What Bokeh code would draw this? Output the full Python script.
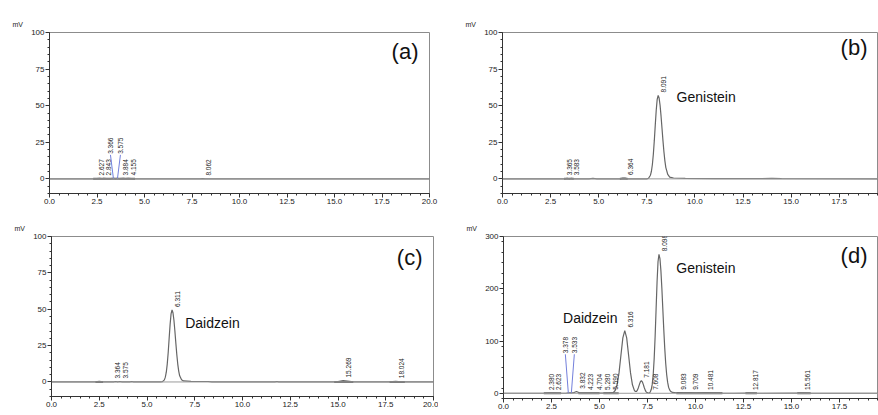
import numpy as np
from bokeh.plotting import figure
from bokeh.layouts import column, row
from bokeh.models import FixedTicker, Label, PrintfTickFormatter, Range1d, Span
from bokeh.core.properties import value
from bokeh.embed import file_html
from bokeh.resources import INLINE

# ---------------- data ----------------
# (a) blank
a_time = [0, 2.3, 2.5, 2.627, 2.75, 2.843, 3.0, 3.2, 3.366, 3.47, 3.575, 3.7, 3.884, 4.0, 4.155, 4.3, 4.5, 7.9, 8.062, 8.2, 20]
a_mv = [0, 0, 0.1, 0.3, 0.1, 0.3, 0.1, 0.1, 0.4, 0.2, 0.4, 0.1, 0.3, 0.1, 0.3, 0.1, 0, 0, 0.2, 0, 0]
a_rt = [2.627, 2.843, 3.366, 3.575, 3.884, 4.155, 8.062]
a_raised = [3.366, 3.575]
a_int_start = [2.3]
a_int_end = [4.5]

# (b) genistein standard
b_time = [0, 3.2, 3.365, 3.47, 3.583, 3.7, 4.5, 4.7, 4.9, 6.1, 6.25, 6.364, 6.5, 7.5, 7.59, 7.69, 7.74, 7.79,
          7.84, 7.89, 7.94, 7.99, 8.04, 8.091, 8.14, 8.19, 8.24, 8.29, 8.34, 8.39, 8.44, 8.49, 8.59, 8.69, 8.89,
          9.5, 11.0, 13.5, 14.0, 14.5, 20]
b_mv = [0, 0, 0.4, 0.1, 0.4, 0, 0, 0.3, 0, 0, 0.5, 0.6, 0, 0, 0.4, 2.5, 5.2, 9.8, 16.8, 26.1, 36.7, 46.9, 54.3,
        57, 55.2, 50.3, 43, 34.6, 26.1, 18.5, 12.3, 7.7, 3.0, 1.2, 0.6, 0.3, 0.2, 0.1, 0.4, 0.1, 0]
b_rt = [3.365, 3.583, 6.364, 8.091]
b_raised = []
b_int_start = [3.2, 6.1]
b_int_end = [3.7, 6.5]

# (c) daidzein standard
c_time = [0, 2.3, 2.5, 2.7, 3.25, 3.364, 3.47, 3.575, 3.7, 4.1, 4.2, 4.3, 5.7, 5.81, 5.91, 5.96, 6.01, 6.06,
          6.11, 6.16, 6.21, 6.26, 6.311, 6.36, 6.41, 6.46, 6.51, 6.56, 6.61, 6.66, 6.71, 6.81, 6.91, 7.3, 8.2,
          8.4, 11.7, 11.8, 11.9, 14.8, 15.0, 15.269, 15.5, 15.8, 17.7, 18.024, 18.3, 20]
c_mv = [0, 0, 0.4, 0, 0, 0.3, 0, 0.3, 0, 0, 0.3, 0, 0, 0.2, 1.4, 3.3, 6.7, 12.3, 20.3, 30, 39.6, 46.8, 49.5,
        47.6, 42.4, 35, 26.7, 18.9, 12.3, 7.5, 4.2, 1.5, 0.7, 0.4, 0.3, 0, 0, 0.3, 0, 0, 0.3, 1.0, 0.6, 0, 0,
        0.5, 0, 0]
c_rt = [3.364, 3.575, 6.311, 15.269, 18.024]
c_raised = []
c_int_start = [2.3, 14.8, 17.7]
c_int_end = [2.7, 15.8, 18.5]

# (d) sample
d_time = [0, 2.1, 2.38, 2.5, 2.623, 3.0, 3.25, 3.378, 3.533, 3.65, 3.8, 3.95, 4.1, 4.223, 4.4, 4.704, 5.0,
          5.28, 5.45, 5.59, 5.716, 5.816, 5.916, 6.016, 6.116, 6.216, 6.316, 6.416, 6.516, 6.616, 6.716,
          6.816, 6.87, 6.93, 6.98, 7.03, 7.08, 7.13, 7.181, 7.23, 7.28, 7.33, 7.38, 7.43, 7.48, 7.55, 7.608,
          7.648, 7.698, 7.748, 7.798, 7.848, 7.898, 7.948, 7.998, 8.048, 8.098, 8.148, 8.198, 8.248, 8.298,
          8.348, 8.398, 8.448, 8.498, 8.548, 8.598, 8.648, 8.698, 8.798, 9.0, 9.083, 9.4, 9.709, 10.0,
          10.481, 11.4, 12.0, 12.817, 13.2, 15.561, 16.0, 20]
d_mv = [0, 0, 0.4, 0.2, 0.4, 0, 0, 0.6, 0.6, 1.0, 3.5, 1.0, 0.3, 0.4, 0.2, 0.4, 0.2, 0.5, 0.4, 1.0, 1.3, 5.3,
        16.2, 39, 72.8, 105.9, 120, 105.9, 72.8, 39, 16.2, 5.5, 3.4, 3.8, 6.5, 11.2, 17, 22, 24, 22, 17, 11,
        6, 2.7, 1.1, 0.5, 0.8, 2.9, 7.6, 17.5, 36, 66.3, 109.3, 161.4, 213, 251.6, 266, 257.8, 234.7, 200.8,
        161.4, 121.8, 86.4, 57.5, 35.9, 21.2, 11.7, 7, 3.9, 1.6, 1.0, 1.2, 0.7, 0.8, 0.5, 0.6, 0.2, 0, 0.3,
        0, 0.3, 0, 0]
d_rt = [2.380, 2.623, 3.378, 3.533, 3.832, 4.223, 4.704, 5.280, 5.590, 6.316, 7.181, 7.608, 8.098, 9.083,
        9.709, 10.481, 12.817, 15.561]
d_raised = [3.378, 3.533]
d_int_start = [2.1, 3.9, 5.2, 9.0, 12.6, 15.3]
d_int_end = [3.0, 5.0, 6.0, 11.4, 13.2, 16.0]

x_major = [0, 2.5, 5, 7.5, 10, 12.5, 15, 17.5, 20]
y_major_small = [0, 25, 50, 75, 100]
y_major_big = [0, 100, 200, 300]

FONT = "Liberation Sans"
TRACE = "#666666"
TXT = "#222222"
BLUE = "#7380dc"


def spread(px, gap=7.5):
    """push apart label positions (screen px) that would overlap"""
    out = list(px)
    for i in range(1, len(out)):
        if out[i] - out[i - 1] < gap:
            mid = (out[i] + out[i - 1]) / 2 - 2
            out[i - 1] = mid - gap / 2
            out[i] = mid + gap / 2
    return out


def make_panel(time, mv, rts, raised, int_s, int_e, ymin, ymax, y_major, y_minor_step,
               fw, fh, xmax, bl, br, bt, bb, tag, tag_dy, names, raise_px, min_x):
    p = figure(frame_width=fw, frame_height=fh, x_range=Range1d(0, xmax), y_range=Range1d(ymin, ymax),
               output_backend="svg", toolbar_location=None,
               min_border_left=bl, min_border_right=br, min_border_top=bt, min_border_bottom=bb)
    p.xgrid.visible = False
    p.ygrid.visible = False
    p.outline_line_color = "#8c8c8c"
    p.outline_line_width = 1
    p.background_fill_color = "white"
    p.border_fill_color = "white"

    # "mV" unit above the y axis
    p.title.text = "mV"
    p.title.align = "left"
    p.title.offset = -37
    p.title.standoff = 10
    p.title.text_font = FONT
    p.title.text_font_size = "7px"
    p.title.text_font_style = "normal"
    p.title.text_color = TXT

    p.xaxis.ticker = FixedTicker(ticks=x_major, minor_ticks=list(np.arange(0, 20.01, 0.5)))
    p.xaxis.formatter = PrintfTickFormatter(format="%.1f")
    p.yaxis.ticker = FixedTicker(ticks=y_major,
                                 minor_ticks=list(np.arange(ymin, ymax + 0.01, y_minor_step)))
    for ax in (p.xaxis, p.yaxis):
        ax.axis_line_color = "#333333"
        ax.major_tick_line_color = "#333333"
        ax.minor_tick_line_color = "#333333"
        ax.major_tick_in = 0
        ax.major_tick_out = 4
        ax.minor_tick_in = 0
        ax.minor_tick_out = 2
        ax.major_label_text_font = FONT
        ax.major_label_text_font_size = "8px"
        ax.major_label_text_color = TXT
        ax.major_label_standoff = 1

    p.add_layout(Span(location=0, dimension="width", line_color="#9a9a9a", line_width=1))
    p.segment(x0=int_s, y0=[0] * len(int_s), x1=int_e, y1=[0] * len(int_e),
              line_color="#6a6a6a", line_width=2)
    p.line(time, mv, line_color=TRACE, line_width=1.2)

    ppu_x = fw / xmax
    ppu_y = fh / (ymax - ymin)
    normal = [r for r in rts if r not in raised]
    ys = list(np.interp(normal, time, mv))
    px = spread([r * ppu_x + 5.5 for r in normal])
    xs = [v / ppu_x for v in px]
    p.text(x=xs, y=ys, text=[f"{r:.3f}" for r in normal], angle=np.pi / 2,
           y_offset=-3, text_font=value(FONT), text_font_size="6.5px",
           text_align="left", text_baseline="middle", text_color=TXT)
    if raised:
        shifts = [-3.0, 3.0]
        xl = [r + s / ppu_x for r, s in zip(raised, shifts)]
        yl = [raise_px / ppu_y] * len(raised)
        p.segment(x0=raised, y0=[0] * len(raised), x1=xl, y1=[y - 1 / ppu_y for y in yl],
                  line_color=BLUE, line_width=1)
        p.text(x=xl, y=yl, text=[f"{r:.3f}" for r in raised], angle=np.pi / 2,
               text_font=value(FONT), text_font_size="6.5px",
               text_align="left", text_baseline="middle", text_color=TXT)

    p.add_layout(Label(x=min_x, y=-11, x_units="screen", y_units="screen", text="min",
                       text_font=FONT, text_font_size="6.5px", text_color=TXT,
                       text_baseline="top", text_align="right"))
    p.add_layout(Label(x=fw - 11, y=fh - tag_dy, x_units="screen", y_units="screen", text=tag,
                       text_font=FONT, text_font_size="22px", text_color="#111111",
                       text_baseline="middle", text_align="right"))
    for nm, nx, ny in names:
        p.add_layout(Label(x=nx, y=ny, text=nm, text_font=FONT, text_font_size="14px",
                           text_color="#111111", text_baseline="middle", text_align="left"))
    return p


pa = make_panel(a_time, a_mv, a_rt, a_raised, a_int_start, a_int_end, -10, 100, y_major_small, 5,
                380, 161, 20, 49, 9, 31, 18, "(a)", 19, [], 25, 384)
pb = make_panel(b_time, b_mv, b_rt, b_raised, b_int_start, b_int_end, -10, 100, y_major_small, 5,
                376, 161, 376 / 19.24, 64, 0, 32, 17, "(b)", 15, [("Genistein", 9.05, 56)], 25, 375)
pc = make_panel(c_time, c_mv, c_rt, c_raised, c_int_start, c_int_end, -10, 100, y_major_small, 5,
                382, 160, 20, 51, 5, 24, 21, "(c)", 21, [("Daidzein", 7.0, 40.7)], 25, 386)
pd = make_panel(d_time, d_mv, d_rt, d_raised, d_int_start, d_int_end, -10, 300, y_major_big, 20,
                375, 162, 375 / 19.2, 65, 0, 26, 17, "(d)", 19,
                [("Daidzein", 3.1, 145), ("Genistein", 9.0, 239)], 40, 374)

layout = column(row(pa, pb), row(pc, pd))
open("out.html", "w").write(file_html(layout, INLINE))
